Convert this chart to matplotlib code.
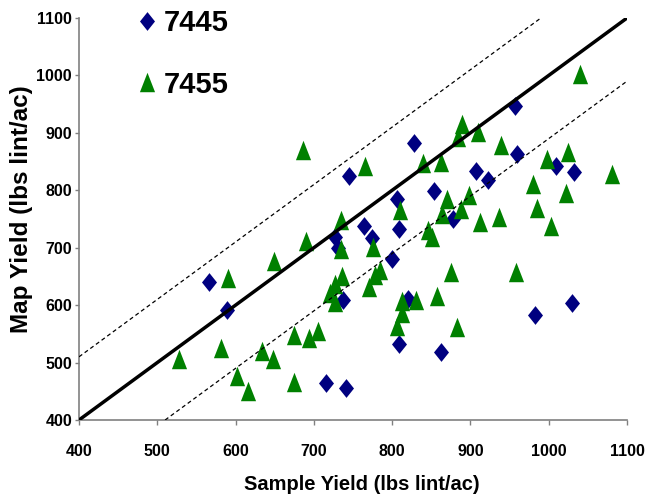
import matplotlib

matplotlib.use("Agg")
import matplotlib.pyplot as plt
from matplotlib import font_manager

# yield pairs (lbs lint/ac)
sample_7445 = [566, 589, 716, 741, 800, 820, 737, 809, 862, 983, 1030,
               745, 828, 957, 959, 907, 922, 1009, 1032, 853, 806, 809,
               764, 774, 727, 731, 878]
map_7445 = [640, 592, 465, 456, 681, 611, 609, 532, 518, 583, 603,
            825, 882, 947, 863, 834, 818, 843, 832, 799, 785, 733,
            737, 717, 719, 700, 750]

sample_7455 = [528, 590, 649, 582, 634, 648, 602, 616, 674, 675, 694, 705,
               690, 686, 720, 727, 727, 736, 735, 735, 765, 776, 770, 778,
               785, 810, 813, 830, 813, 806, 857, 883, 875, 958, 846, 851,
               864, 870, 888, 898, 912, 937, 840, 863, 889, 884, 910, 939,
               1040, 998, 1024, 1081, 980, 985, 1022, 1003]
map_7455 = [506, 647, 677, 525, 520, 506, 477, 450, 466, 548, 543, 555,
            712, 870, 622, 636, 605, 650, 748, 697, 842, 701, 631, 652,
            662, 766, 608, 609, 586, 564, 616, 562, 658, 658, 731, 719,
            759, 785, 767, 792, 745, 754, 848, 850, 916, 893, 902, 878,
            1003, 854, 866, 829, 811, 769, 795, 737]

ticks = [400, 500, 600, 700, 800, 900, 1000, 1100]
band = 110  # +/- offset of the dashed lines around 1:1


def pick_font(name, fallback="DejaVu Sans"):
    try:
        font_manager.findfont(font_manager.FontProperties(family=name),
                              fallback_to_default=False)
        return name
    except ValueError:
        return fallback


font = pick_font("Liberation Sans")

W, H = 649, 499
fig = plt.figure(figsize=(W / 100, H / 100), dpi=100)
ax = fig.add_axes([79 / W, 1 - 420 / H, (627 - 79) / W, (420 - 18) / H])

diamond = [(0, 1), (0.8, 0), (0, -1), (-0.8, 0)]
triangle = [(0, 1), (-0.78, -1), (0.78, -1)]

h1, = ax.plot(sample_7445, map_7445, linestyle="none", marker=diamond,
              markersize=13.5, markeredgewidth=0, color="#000080",
              label="7445", zorder=2, clip_on=False)
h2, = ax.plot(sample_7455, map_7455, linestyle="none", marker=triangle,
              markersize=14, markeredgewidth=0, color="#008000",
              label="7455", zorder=3, clip_on=False)

lo, hi = ticks[0], ticks[-1]
ax.plot([lo, hi], [lo, hi], color="black", lw=2.5, zorder=5,
        solid_capstyle="butt")
ax.plot([lo, hi - band], [lo + band, hi], color="black", lw=0.9,
        linestyle=(0, (3.2, 2.4)), zorder=5)
ax.plot([lo + band, hi], [lo, hi - band], color="black", lw=0.9,
        linestyle=(0, (3.2, 2.4)), zorder=5)

ax.set_xlim(lo, hi)
ax.set_ylim(lo, hi)
ax.set_xticks(ticks)
ax.set_yticks(ticks)
for s in ("top", "right"):
    ax.spines[s].set_visible(False)
for s in ("left", "bottom"):
    ax.spines[s].set_color("#808080")
    ax.spines[s].set_linewidth(1.2)
ax.tick_params(axis="x", direction="out", length=3.5, width=1.0,
               color="#808080", pad=14)
ax.tick_params(axis="y", direction="out", length=3.0, width=1.0,
               color="#808080", pad=2)
for lab in ax.get_xticklabels() + ax.get_yticklabels():
    lab.set_fontfamily(font)
    lab.set_fontweight("bold")
    lab.set_fontsize(11.5)

fig.text(362 / W, 1 - 484 / H, "Sample Yield (lbs lint/ac)",
         family=font, weight="bold", size=14.5, ha="center", va="center")
fig.text(22 / W, 1 - 209 / H, "Map Yield (lbs lint/ac)",
         family=font, weight="bold", size=17.5, rotation=90,
         ha="center", va="center")

ax.legend(handles=[h1, h2], loc="upper left",
          bbox_to_anchor=(139 / W, 1 - 9 / H), bbox_transform=fig.transFigure,
          frameon=False, numpoints=1, handlelength=0.55, handletextpad=0.3,
          labelspacing=1.15, borderpad=0, borderaxespad=0,
          prop=dict(family=font, weight="bold", size=21))

fig.savefig("out.png", dpi=100)
